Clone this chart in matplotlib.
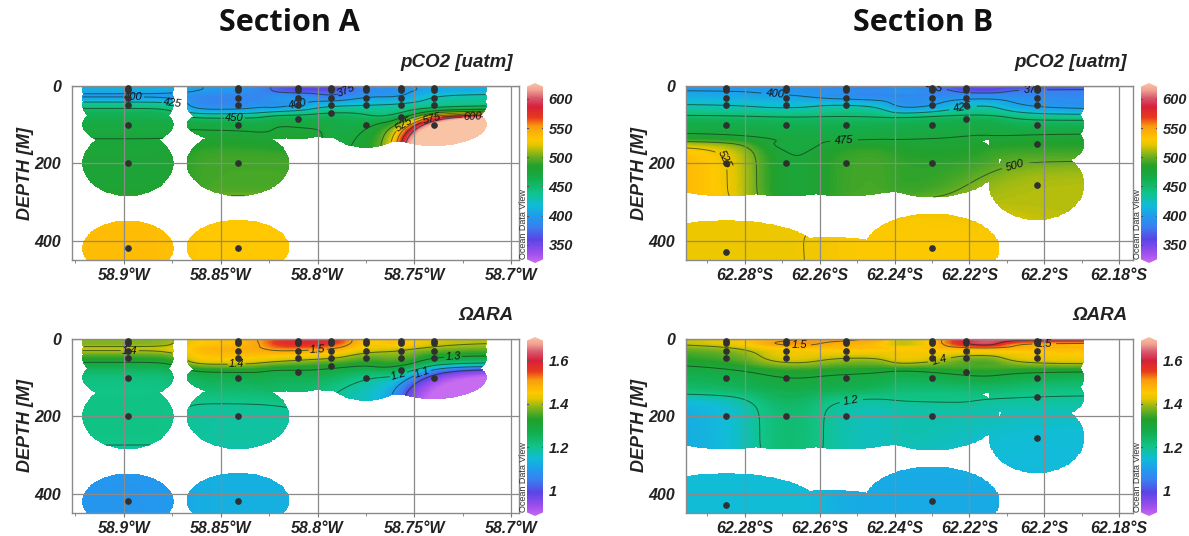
import numpy as np
import matplotlib
matplotlib.use('Agg')
import matplotlib.pyplot as plt
from matplotlib.colors import LinearSegmentedColormap, Normalize
from matplotlib.patches import Polygon
from matplotlib.ticker import FixedLocator, MultipleLocator

plt.rcParams['font.family'] = ['Liberation Sans', 'DejaVu Sans']

W, H = 1189, 536

# station positions
a_lon = [58.898, 58.841, 58.81, 58.793, 58.775, 58.757, 58.74]
b_lat = [62.285, 62.269, 62.253, 62.230, 62.221, 62.202]

# sample depths per station
a_depth = [[5, 10, 30, 50, 100, 200, 420],
           [5, 10, 30, 50, 100, 200, 418],
           [5, 10, 30, 50, 85],
           [5, 10, 30, 50, 70],
           [5, 10, 30, 50, 100],
           [5, 10, 30, 50, 80],
           [5, 10, 30, 50, 100]]
b_depth = [[5, 10, 30, 50, 100, 200, 430],
           [5, 10, 30, 50, 100, 200],
           [5, 10, 30, 50, 100, 200],
           [5, 10, 30, 50, 100, 200, 420],
           [5, 10, 30, 50, 85],
           [5, 10, 30, 50, 100, 150, 255]]

# pCO2
a_pco2 = [[410, 410, 402, 440, 470, 478, 537],
          [395, 395, 385, 390, 468, 492, 531],
          [360, 362, 395, 402, 462],
          [355, 365, 385, 420, 450],
          [385, 385, 400, 425, 470],
          [395, 395, 405, 430, 470],
          [405, 405, 425, 440, 625]]
b_pco2 = [[395, 398, 410, 425, 465, 525, 524.5],
          [395, 395, 405, 420, 462, 478],
          [385, 390, 395, 425, 462, 490],
          [380, 385, 390, 400, 465, 487, 530],
          [360, 365, 395, 420, 460],
          [365, 375, 390, 398, 460, 485, 512]]

# omega aragonite
a_ara = [[1.38, 1.38, 1.40, 1.33, 1.22, 1.21, 1.09],
         [1.47, 1.47, 1.48, 1.45, 1.27, 1.19, 1.13],
         [1.58, 1.58, 1.50, 1.42, 1.29],
         [1.57, 1.56, 1.48, 1.40, 1.32],
         [1.46, 1.46, 1.42, 1.36, 1.21],
         [1.46, 1.46, 1.40, 1.36, 1.25],
         [1.42, 1.42, 1.37, 1.30, 0.97]]
b_ara = [[1.43, 1.43, 1.38, 1.35, 1.27, 1.15, 1.15],
         [1.50, 1.51, 1.44, 1.42, 1.30, 1.23],
         [1.50, 1.49, 1.45, 1.40, 1.29, 1.18],
         [1.46, 1.46, 1.45, 1.42, 1.27, 1.18, 1.12],
         [1.60, 1.60, 1.46, 1.38, 1.32],
         [1.58, 1.52, 1.46, 1.43, 1.27, 1.20, 1.15]]

# reach of the data around each sample, this gives the white gaps
a_rx = [.0235, .0265, .022, .02, .02, .02, .0273]
b_rx = [.025, .025, .025, .018, .015, .0128]
a_rz = [[60, 60, 60, 60, 55, 85, 72],
        [60, 60, 60, 60, 45, 85, 72],
        [60, 60, 60, 60, 52],
        [60, 60, 60, 60, 65],
        [60, 60, 60, 60, 60],
        [60, 60, 60, 60, 65],
        [60, 60, 60, 60, 55]]
b_rz = [[60, 60, 60, 60, 60, 85, 83],
        [60, 60, 60, 60, 60, 85],
        [60, 60, 60, 60, 60, 85],
        [60, 60, 60, 60, 60, 88, 90],
        [60, 60, 60, 60, 60],
        [60, 60, 60, 60, 60, 60, 92]]
a_extra = [(58.822, 90, .022, 47)]
b_extra = [(62.2575, 470, .024, 80)]

# tick labels and contour labels
a_ticks = [58.9, 58.85, 58.8, 58.75, 58.7]
b_ticks = [62.28, 62.26, 62.24, 62.22, 62.2, 62.18]
pco2_levels = [350, 375, 400, 425, 450, 475, 500, 525, 550, 575, 600]
ara_levels = [1.0, 1.1, 1.2, 1.3, 1.4, 1.5, 1.6]
a_pco2_labels = [(58.895, 28), (58.875, 46), (58.81, 50), (58.785, 20), (58.755, 102), (58.741, 88), (58.72, 88), (58.843, 88)]
b_pco2_labels = [(62.272, 30), (62.23, 3), (62.2215, 65), (62.203, 12), (62.2535, 142), (62.208, 200), (62.2855, 190)]
a_ara_labels = [(58.897, 35), (58.842, 28), (58.8, 24), (58.73, 45), (58.758, 95), (58.746, 85)]
b_ara_labels = [(62.2655, 18), (62.2, 20), (62.2275, 68), (62.2515, 163)]

colors = [(0.0, '#c76bf0'), (0.05, '#a050ee'), (0.13, '#5b45e6'), (0.20, '#3a80f0'),
          (0.26, '#1f9cee'), (0.32, '#10bcd8'), (0.39, '#10c488'), (0.47, '#14ad4c'),
          (0.54, '#22a02c'), (0.59, '#6cae22'), (0.625, '#a8bc10'), (0.655, '#e4c600'),
          (0.69, '#ffc800'), (0.76, '#fa9c10'), (0.81, '#e83a1c'), (0.87, '#d8203c'),
          (0.92, '#d85a70'), (0.96, '#f0a090'), (1.0, '#f9c3a6')]
odv = LinearSegmentedColormap.from_list('odv', colors)


def px_axes(x0, y0, x1, y1):
    return fig.add_axes([x0 / W, 1 - y1 / H, (x1 - x0) / W, (y1 - y0) / H])


def grid_field(xs, depths, vals, rx, rz, lx, extra=()):
    # gaussian weighted gridding in sqrt(depth) with a few correction passes
    px = np.concatenate([[x] * len(d) for x, d in zip(xs, depths)])
    pz = np.concatenate(depths).astype(float)
    pv = np.concatenate(vals).astype(float)
    prx = np.concatenate([[r] * len(d) for r, d in zip(rx, depths)])
    prz = np.concatenate(rz).astype(float)

    gx = np.linspace(min(xs) - .04, max(xs) + .04, 500)
    gz = np.linspace(0, 450, 400)
    X, Z = np.meshgrid(gx, gz)

    def estimate(x, z, res, sx, sz):
        w = np.exp(-((x - px) / sx) ** 2 - ((np.sqrt(z) - np.sqrt(pz)) / sz) ** 2)
        return (w * res).sum(-1) / (w.sum(-1) + 1e-12)

    res = pv.copy()
    out = np.zeros_like(X)
    at_pts = np.zeros_like(pv)
    for sx, sz in [(lx * 2, 2.0), (lx * 1.3, 1.4), (lx, 1.0), (lx * .8, .8), (lx * .8, .8)]:
        out += estimate(X[..., None], Z[..., None], res, sx, sz)
        at_pts += estimate(px[:, None], pz[:, None], res, sx, sz)
        res = pv - at_pts

    keep = np.zeros_like(X, dtype=bool)
    for x, z, r1, r2 in zip(px, pz, prx, prz):
        keep |= ((X - x) / r1) ** 2 + ((Z - z) / r2) ** 2 <= 1
    for x, z, r1, r2 in extra:
        keep |= ((X - x) / r1) ** 2 + ((Z - z) / r2) ** 2 <= 1
    return gx, gz, np.ma.masked_where(~keep, out)


def panel(box, xlim, ticks, suffix, xs, depths, vals, rx, rz, lx, norm, levels, lab_pts, fmt, title, extra=()):
    ax = px_axes(*box)
    gx, gz, field = grid_field(xs, depths, vals, rx, rz, lx, extra)
    ax.pcolormesh(gx, gz, field, cmap=odv, norm=norm, shading='auto', zorder=1)
    cs = ax.contour(gx, gz, field, levels=levels, colors='#103018', linewidths=.7, alpha=.65, zorder=2)
    labs = ax.clabel(cs, manual=lab_pts, fmt=fmt, fontsize=8, inline=True, inline_spacing=1)
    for t in labs:
        t.set_fontstyle('italic')
        t.set_color('#101010')
    for x, d in zip(xs, depths):
        ax.plot([x] * len(d), d, 'o', ms=3.8, color='#303030', ls='none', zorder=4, clip_on=False)
    ax.set_xlim(*xlim)
    ax.set_ylim(450, 0)
    ax.xaxis.set_major_locator(FixedLocator(ticks))
    ax.set_xticklabels([('%g' % t) + '°' + suffix for t in ticks], fontsize=11.5, fontweight='bold', fontstyle='italic', color='#222222')
    step = ticks[0] - ticks[1]
    ax.xaxis.set_minor_locator(MultipleLocator(abs(step) / 2))
    ax.set_yticks([0, 200, 400])
    ax.set_yticklabels(['0', '200', '400'], fontsize=11.5, fontweight='bold', fontstyle='italic', color='#222222')
    ax.tick_params(axis='x', which='major', length=3, color='#777777', pad=3)
    ax.tick_params(axis='x', which='minor', length=2, color='#777777')
    ax.tick_params(axis='y', length=0, pad=8)
    ax.grid(True, color='#8a8a8a', lw=.9, zorder=3)
    ax.set_axisbelow(False)
    for s in ax.spines.values():
        s.set_color('#8a8a8a')
        s.set_linewidth(1)
    ax.set_ylabel('DEPTH [M]', fontsize=13, fontweight='bold', fontstyle='italic', color='#222222')
    ax.yaxis.set_label_coords(-38 / (box[2] - box[0]), .5)
    fig.text((box[2] - 6) / W, 1 - (box[1] - 15) / H, title, ha='right', va='bottom',
             fontsize=13.5, fontweight='bold', fontstyle='italic', color='#222222')
    return ax


def colorbar(x0, y0, x1, y1, norm, ticks, labels):
    cax = px_axes(x0, y0, x1, y1)
    grad = np.linspace(norm.vmin, norm.vmax, 256).reshape(-1, 1)
    im = cax.imshow(grad, origin='lower', aspect='auto', cmap=odv, norm=norm,
                    extent=[0, 1, norm.vmin, norm.vmax])
    span = norm.vmax - norm.vmin
    tip = span * .02
    outline = [(0, norm.vmin + tip), (.5, norm.vmin), (1, norm.vmin + tip),
               (1, norm.vmax - tip), (.5, norm.vmax), (0, norm.vmax - tip)]
    clip = Polygon(outline, transform=cax.transData, fc='none', ec='none')
    cax.add_patch(clip)
    im.set_clip_path(clip)
    for s in cax.spines.values():
        s.set_visible(False)
    cax.set_xticks([])
    cax.yaxis.tick_right()
    cax.set_yticks(ticks)
    cax.set_yticklabels(labels, fontsize=10.5, fontweight='bold', fontstyle='italic', color='#222222')
    cax.tick_params(axis='y', length=0, pad=4)
    for t in ticks:
        cax.plot([0, .08], [t, t], color='#555555', lw=.8)
        cax.plot([.92, 1], [t, t], color='#555555', lw=.8)
    cax.set_xlim(0, 1)
    cax.set_ylim(norm.vmin, norm.vmax)
    fig.text((x0 - 3) / W, 1 - (y1 - 4) / H, 'Ocean Data View', rotation=90, fontsize=6.5, ha='center', va='bottom', color='#333333')


fig = plt.figure(figsize=(W / 100, H / 100), dpi=100)

norm_p = Normalize(319, 627)
norm_o = Normalize(.885, 1.706)

a_xlim = (58.9268, 58.696)
b_xlim = (62.2957, 62.1763)

panel((72, 86, 519, 260), a_xlim, a_ticks, 'W', a_lon, a_depth, a_pco2, a_rx, a_rz, .011, norm_p, pco2_levels, a_pco2_labels, '%g', 'pCO2 [uatm]', a_extra)
panel((686, 86, 1133, 260), b_xlim, b_ticks, 'S', b_lat, b_depth, b_pco2, b_rx, b_rz, .009, norm_p, pco2_levels, b_pco2_labels, '%g', 'pCO2 [uatm]', b_extra)
panel((72, 339, 519, 513), a_xlim, a_ticks, 'W', a_lon, a_depth, a_ara, a_rx, a_rz, .011, norm_o, ara_levels, a_ara_labels, '%.1f', 'ΩARA', a_extra)
panel((686, 339, 1133, 513), b_xlim, b_ticks, 'S', b_lat, b_depth, b_ara, b_rx, b_rz, .009, norm_o, ara_levels, b_ara_labels, '%.1f', 'ΩARA', b_extra)

colorbar(527, 83, 543, 263, norm_p, [350, 400, 450, 500, 550, 600], ['350', '400', '450', '500', '550', '600'])
colorbar(1141, 83, 1157, 263, norm_p, [350, 400, 450, 500, 550, 600], ['350', '400', '450', '500', '550', '600'])
colorbar(527, 337, 543, 516, norm_o, [1.0, 1.2, 1.4, 1.6], ['1', '1.2', '1.4', '1.6'])
colorbar(1141, 337, 1157, 516, norm_o, [1.0, 1.2, 1.4, 1.6], ['1', '1.2', '1.4', '1.6'])

fig.text(289 / W, 1 - 23 / H, 'Section A', ha='center', va='center', fontsize=22, fontweight='bold', family='Open Sans', color='#111111')
fig.text(923 / W, 1 - 23 / H, 'Section B', ha='center', va='center', fontsize=22, fontweight='bold', family='Open Sans', color='#111111')

fig.savefig('out.png', dpi=100)
